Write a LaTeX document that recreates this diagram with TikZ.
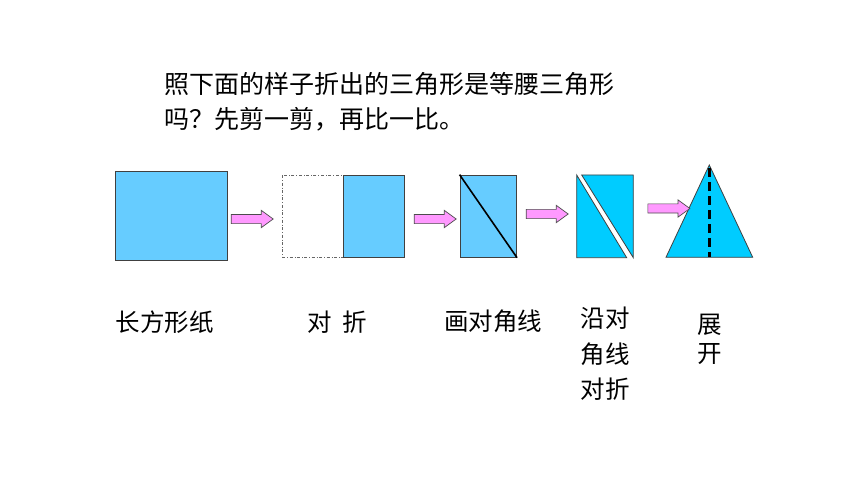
\documentclass[tikz,border=0pt]{standalone}
\usepackage{fontspec}
\setmainfont{Noto Sans CJK SC}
\usepackage{xcolor}
\usetikzlibrary{shapes.arrows}

\definecolor{paperblue}{HTML}{66CCFF}
\definecolor{foldcyan}{HTML}{00CCFF}
\definecolor{arrowpink}{HTML}{FF99FF}

\tikzset{
  sheet/.style={draw=black!75, fill=paperblue, line width=0.8pt, inner sep=0pt},
  cutsheet/.style={draw=black!75, fill=foldcyan, line width=0.8pt},
  pinkarrow/.style={single arrow, draw=black!70, fill=arrowpink, line width=0.7pt,
    minimum height=42pt, minimum width=0pt, single arrow head extend=4pt,
    single arrow tip angle=72, inner xsep=0pt, inner ysep=4.25pt},
  steplabel/.style={inner sep=0pt, align=left, font=\fontsize{24.5}{35.7}\selectfont}
}

\begin{document}
\begin{tikzpicture}[x=1pt, y=-1pt]
                \useasboundingbox (0,0) rectangle (860,484);

                \node[anchor=north west, inner sep=0pt, align=left,
                  font=\fontsize{25}{35}\selectfont] (question) at (164,71.8)
                  {照下面的样子折出的三角形是等腰三角形\\吗？先剪一剪，再比一比。};

                \node[sheet, minimum width=112pt, minimum height=89pt] (paper) at (171,215.5) {};
                \node[steplabel, anchor=west] (paperlabel) at (115.7,322) {长方形纸};

                \draw[draw=black!60, dash dot, line width=0.7pt] (282.7,175.3) rectangle (343.3,257.3);
                \node[sheet, minimum width=61pt, minimum height=82pt] (half) at (373.8,216.3) {};
                \node[steplabel, anchor=west] (halflabel) at (307.3,322) {对\hspace{11pt}折};

                \node[sheet, minimum width=56.7pt, minimum height=82.3pt] (diag) at (488.3,216.2) {};
                \draw[black, line width=1.6pt] (diag.north west) -- (diag.south east);
                \node[steplabel, anchor=west] (diaglabel) at (444,321.7) {画对角线};

                \coordinate (fold nw) at (576.7,175);
                \coordinate (fold ne) at (633.3,175);
                \coordinate (fold sw) at (576.7,257.7);
                \coordinate (fold se) at (633.3,257.7);
                \draw[cutsheet] (fold nw) -- (fold sw) -- (626.7,257.7) -- cycle;
                \draw[cutsheet] (581.7,175) -- (fold ne) -- (fold se) -- cycle;
                \node[steplabel, anchor=north west] (foldlabel) at (580.7,306.8) {沿对\\角线\\对折};

                \coordinate (apex) at (709.3,165);
                \coordinate (base left) at (666,257.3);
                \coordinate (base right) at (752.7,257.3);
                \coordinate (base mid) at (709.3,257);
                \draw[cutsheet] (apex) -- (base right) -- (base left) -- cycle;
                \draw[black, line width=2.7pt, dash pattern=on 9pt off 5pt] ([yshift=-3pt]apex) -- (base mid);
                \node[steplabel, anchor=north west, font=\fontsize{24.5}{29.5}\selectfont] (openlabel) at (697.3,313.8) {展\\开};

                \node[pinkarrow] (arr1) at (249,219) {};
                \node[pinkarrow] (arr2) at (432,219) {};
                \node[pinkarrow] (arr3) at (544,214) {};
                \node[pinkarrow] (arr4) at (665.7,208.5) {};
            \end{tikzpicture}
\end{document}
